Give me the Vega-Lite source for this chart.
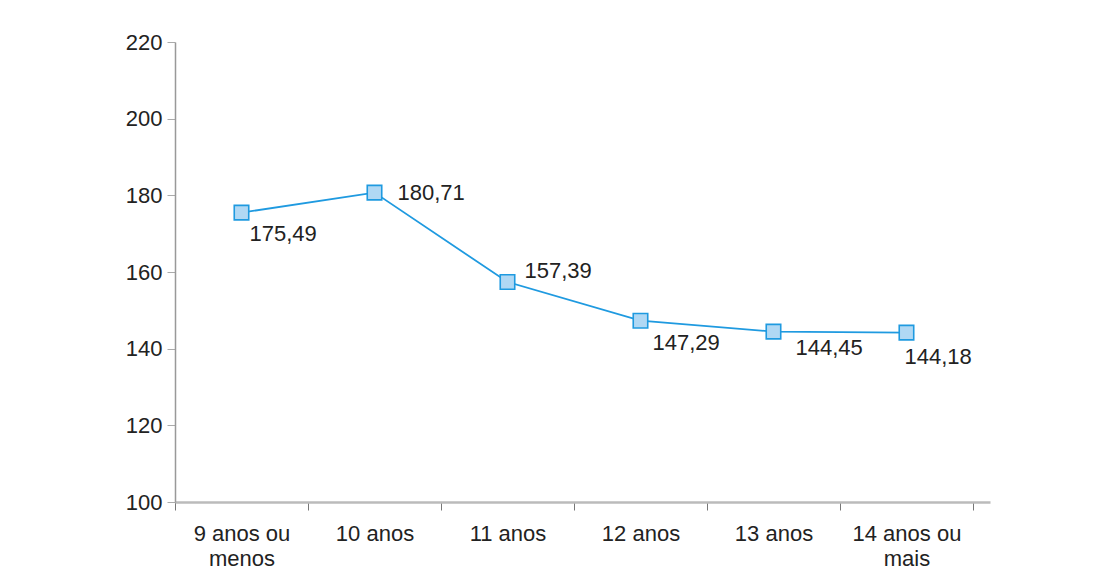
{
  "$schema": "https://vega.github.io/schema/vega-lite/v6.json",
  "width": 815,
  "height": 460,
  "autosize": {"type": "none"},
  "padding": {"left": 175, "top": 42, "right": 109, "bottom": 74},
  "background": "white",
  "config": {
    "view": {"stroke": null},
    "locale": {"number": {"decimal": ",", "thousands": ".", "grouping": [3], "currency": ["R$", ""]}},
    "font": "Liberation Sans"
  },
  "data": {
    "values": [
      {"idade": "9 anos ou menos", "valor": 175.49},
      {"idade": "10 anos", "valor": 180.71},
      {"idade": "11 anos", "valor": 157.39},
      {"idade": "12 anos", "valor": 147.29},
      {"idade": "13 anos", "valor": 144.45},
      {"idade": "14 anos ou mais", "valor": 144.18}
    ]
  },
  "encoding": {
    "x": {
      "field": "idade",
      "type": "nominal",
      "sort": null,
      "scale": {"type": "band", "paddingInner": 0, "paddingOuter": 0.064, "align": 0},
      "axis": {
        "title": null,
        "labelAngle": 0,
        "labelFontSize": 22,
        "labelColor": "#222",
        "labelPadding": 13,
        "labelLineHeight": 25,
        "labelBaseline": "top",
        "tickBand": "extent",
        "tickSize": 8,
        "tickColor": "#777",
        "domainColor": "#bbbbbb",
        "domainWidth": 2.5,
        "labelExpr": "datum.value == '9 anos ou menos' ? ['9 anos ou', 'menos'] : datum.value == '14 anos ou mais' ? ['14 anos ou', 'mais'] : datum.value"
      }
    },
    "y": {
      "field": "valor",
      "type": "quantitative",
      "scale": {"domain": [100, 220], "nice": false, "zero": false},
      "axis": {
        "title": null,
        "values": [100, 120, 140, 160, 180, 200, 220],
        "grid": false,
        "labelFontSize": 22,
        "labelColor": "#222",
        "labelPadding": 5,
        "tickSize": 8,
        "tickColor": "#aaa",
        "domainColor": "#999",
        "domainWidth": 1.5
      }
    }
  },
  "layer": [
    {"mark": {"type": "line", "color": "#1f9ae0", "strokeWidth": 1.8}},
    {"mark": {"type": "point", "shape": "square", "size": 210, "filled": true, "fill": "#b0d8f4", "stroke": "#1f9ae0", "strokeWidth": 1.6, "opacity": 1}},
    {
      "transform": [{"filter": "datum.idade == '9 anos ou menos'"}],
      "mark": {"type": "text", "align": "left", "baseline": "middle", "dx": 8, "dy": 21, "fontSize": 22, "color": "#222"},
      "encoding": {"text": {"field": "valor", "type": "quantitative", "format": ".2f"}}
    },
    {
      "transform": [{"filter": "datum.idade == '10 anos'"}],
      "mark": {"type": "text", "align": "left", "baseline": "middle", "dx": 23, "dy": 0, "fontSize": 22, "color": "#222"},
      "encoding": {"text": {"field": "valor", "type": "quantitative", "format": ".2f"}}
    },
    {
      "transform": [{"filter": "datum.idade == '11 anos'"}],
      "mark": {"type": "text", "align": "left", "baseline": "middle", "dx": 17, "dy": -11, "fontSize": 22, "color": "#222"},
      "encoding": {"text": {"field": "valor", "type": "quantitative", "format": ".2f"}}
    },
    {
      "transform": [{"filter": "datum.idade == '12 anos'"}],
      "mark": {"type": "text", "align": "left", "baseline": "middle", "dx": 12, "dy": 22, "fontSize": 22, "color": "#222"},
      "encoding": {"text": {"field": "valor", "type": "quantitative", "format": ".2f"}}
    },
    {
      "transform": [{"filter": "datum.idade == '13 anos'"}],
      "mark": {"type": "text", "align": "left", "baseline": "middle", "dx": 22, "dy": 16, "fontSize": 22, "color": "#222"},
      "encoding": {"text": {"field": "valor", "type": "quantitative", "format": ".2f"}}
    },
    {
      "transform": [{"filter": "datum.idade == '14 anos ou mais'"}],
      "mark": {"type": "text", "align": "left", "baseline": "middle", "dx": -2, "dy": 24, "fontSize": 22, "color": "#222"},
      "encoding": {"text": {"field": "valor", "type": "quantitative", "format": ".2f"}}
    }
  ]
}
